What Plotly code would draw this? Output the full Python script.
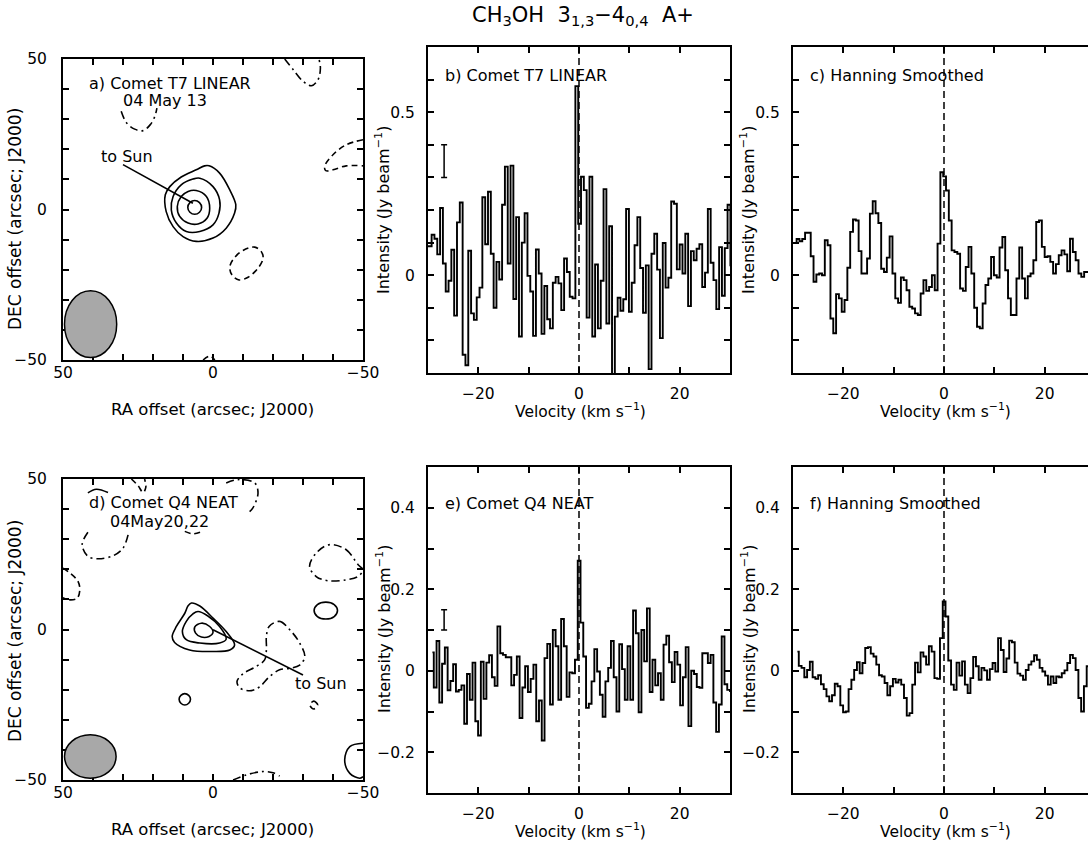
import plotly.graph_objects as go

W, H = 1088, 843
FONT = "DejaVu Sans"

# ---------------- spectra data ----------------
t7_v_start, t7_dv = -30.12, 0.56      # channel centres, km/s
q4_v_start, q4_dv = -29.125, 0.55

t7_raw = [0.089, 0.089, 0.124, 0.112, 0.064, 0.206, 0.036, -0.05, -0.017, 0.078,
          -0.124, 0.162, 0.223, -0.244, -0.276, 0.075, -0.117, -0.137, -0.068, -0.038,
          0.239, 0.095, 0.256, 0.066, -0.1, 0.041, -0.013, 0.216, 0.333, 0.036,
          0.336, -0.073, 0.178, -0.188, 0.1, 0.19, -0.002, -0.05, -0.186, 0.079,
          0.005, -0.18, -0.033, -0.135, -0.163, -0.023, -0.005, -0.025, -0.107, 0.051,
          0.01, -0.066, -0.071, 0.58, 0.158, 0.302, 0.261, -0.13, 0.302, -0.188,
          0.033, -0.163, -0.017, 0.264, -0.148, 0.15, -0.31, -0.127, -0.069, -0.109,
          -0.074, 0.203, -0.112, -0.023, 0.092, 0.178, 0.022, -0.115, 0.03, -0.288,
          0.066, 0.127, 0.017, -0.193, 0.099, -0.038, -0.008, 0.226, 0.219, 0.018,
          0.094, 0.005, 0.127, -0.095, 0.074, 0.046, 0.081, 0.095, -0.036, 0.008,
          0.203, 0.038, -0.015, -0.104, 0.086, -0.063, 0.083, 0.216, 0.03]

t7_hanning = [0.099, 0.099, 0.111, 0.104, 0.111, 0.13, 0.13, 0.058, -0.02, 0.002,
              0.005, 0.0, 0.107, 0.092, -0.133, -0.178, -0.058, -0.071, -0.112, -0.076,
              0.023, 0.133, 0.171, 0.168, 0.074, 0.005, 0.005, 0.051, 0.189, 0.227,
              0.19, 0.16, 0.02, 0.01, 0.054, 0.119, 0.005, -0.071, -0.085, -0.007,
              -0.015, -0.046, -0.097, -0.102, -0.117, -0.122, -0.056, -0.015, -0.048, -0.036,
              0.0, -0.046, 0.097, 0.316, 0.303, 0.26, 0.168, 0.076, 0.071, 0.066,
              -0.041, -0.048, 0.025, 0.087, 0.005, -0.1, -0.158, -0.163, -0.087, -0.03,
              -0.01, 0.056, 0.0, -0.007, 0.085, 0.117, 0.015, -0.071, -0.122, -0.122,
              -0.01, 0.085, -0.01, -0.071, -0.003, 0.005, 0.046, 0.163, 0.168, 0.087,
              0.056, 0.058, 0.041, 0.005, 0.034, 0.061, 0.076, 0.064, 0.012, 0.112,
              0.071, 0.046, 0.005, -0.005, 0.01, 0.01, 0.082, 0.09, 0.1]

q4_raw = [0.045, -0.041, 0.073, -0.078, 0.017, 0.057, -0.048, -0.025, 0.016, -0.051,
          -0.047, -0.036, -0.13, -0.008, -0.071, 0.02, -0.124, -0.159, 0.022, -0.069,
          0.02, 0.038, -0.016, -0.037, 0.109, 0.043, 0.039, 0.033, 0.033, -0.036,
          -0.01, 0.035, -0.116, -0.041, 0.011, -0.052, -0.02, 0.015, -0.124, -0.073,
          -0.171, 0.031, 0.066, -0.083, 0.1, 0.06, -0.071, 0.127, 0.06, -0.064,
          -0.004, -0.006, 0.027, 0.27, 0.118, 0.035, -0.091, -0.081, -0.026, 0.053,
          -0.002, -0.059, -0.113, -0.026, 0.007, 0.073, -0.016, -0.1, 0.065, 0.004,
          -0.071, 0.06, -0.071, 0.148, 0.092, -0.102, 0.1, 0.023, 0.153, -0.052,
          0.027, -0.036, -0.006, -0.071, 0.064, 0.086, 0.021, -0.028, 0.046, 0.015,
          -0.085, -0.016, 0.058, -0.136, 0.0, -0.008, -0.04, -0.042, 0.043, 0.043,
          0.019, 0.039, -0.078, -0.15, -0.083, 0.084, -0.033, -0.047, -0.05]

q4_hanning = [0.047, 0.012, 0.007, -0.016, 0.002, 0.022, -0.016, -0.02, -0.011, -0.033,
              -0.045, -0.063, -0.075, -0.06, -0.032, -0.038, -0.085, -0.102, -0.1, -0.045,
              -0.022, 0.002, 0.021, -0.006, 0.019, 0.056, 0.058, 0.042, 0.035, 0.015,
              -0.011, -0.014, -0.03, -0.06, -0.038, -0.02, -0.029, -0.022, -0.034, -0.067,
              -0.11, -0.104, -0.034, 0.02, -0.004, 0.045, 0.035, 0.015, 0.06, 0.047,
              -0.018, -0.02, 0.08, 0.17, 0.133, 0.025, -0.034, -0.047, 0.02, -0.012,
              0.023, -0.034, -0.055, -0.018, 0.034, 0.011, -0.022, 0.007, 0.001, -0.022,
              0.004, 0.019, -0.002, 0.08, 0.051, -0.003, 0.03, 0.074, 0.07, 0.02,
              -0.007, -0.012, -0.022, 0.002, 0.015, 0.023, 0.038, 0.027, 0.007, -0.002,
              -0.012, -0.034, -0.014, -0.03, -0.014, -0.016, -0.006, 0.001, 0.019, 0.039,
              0.031, 0.002, -0.067, -0.1, -0.038, 0.011, 0.02, 0.0, -0.03]

# rms bars: velocity, lower, upper (Jy/beam)
t7_rms_bar = (-26.8, 0.30, 0.40)
q4_rms_bar = (-26.8, 0.10, 0.15)

# ---------------- map contour paths (RA, DEC offsets, arcsec) ----------------
a_pos_1 = [(1.3, 14.5), (-2.2, 12.1), (-5.6, 6.5), (-7.6, 1.6), (-7.2, -1.2), (-4.4, -6.2),
           (0, -9.5), (5.6, -10.6), (10, -9.0), (13.3, -5.7), (15.6, -0.7), (15.9, 4.9),
           (14.4, 7.6), (10.6, 10.8), (5.6, 13.2), (2.8, 14.5)]
a_pos_2 = [(4.4, 10.4), (0, 7.6), (-2.2, 3.2), (-2.0, -1.2), (0, -5.1), (4.4, -7.3),
           (8.9, -7.3), (12.2, -4.5), (13.9, -0.1), (13.3, 4.3), (10.6, 8.2), (6.7, 10.1)]
a_pos_3 = [(5.6, 6.3), (2.2, 4.3), (1.1, 0.4), (2.0, -2.9), (5.0, -4.8), (8.3, -4.5),
           (11.1, -2.3), (11.9, 1.0), (10.6, 4.3), (8.3, 6.0)]
a_pos_4 = [(8.4, 0.7), (7.7, 2.3), (6.1, 3.0), (4.5, 2.3), (3.8, 0.7), (4.5, -0.9),
           (6.1, -1.6), (7.7, -0.9)]
a_neg_1 = [(30.6, 32.6), (28.9, 28.9), (26.1, 26.7), (23.3, 26.2), (20.9, 28.2), (19.4, 30.9), (18.7, 33.7)]
a_neg_2 = [(-23.9, 50), (-26.7, 46.5), (-30, 42.6), (-32.8, 41.1), (-35, 43.1), (-35.8, 47), (-35.3, 50)]
a_neg_3 = [(-50, 23.2), (-44.4, 21.5), (-40, 18.2), (-37.2, 14.3), (-37.6, 12.9), (-40, 13.2),
           (-44.4, 14.5), (-50, 14.5)]
a_neg_4 = [(-13.9, -12.5), (-16.1, -14.0), (-16.7, -16.2), (-15, -19.5), (-11.7, -22.5),
           (-8.7, -23.4), (-6.3, -21.7), (-5.6, -19.0), (-7.0, -16.2), (-10, -13.6)]
a_neg_5 = [(3.3, -50), (1.1, -48.7), (-0.6, -50)]
a_sun = [(30, 14.9), (6.7, 2.1)]
a_beam = (40.8, -38.1, 8.7, 11.1)     # centre RA, DEC, semi-axes

d_pos_1 = [(7.2, 8.8), (4.4, 7.8), (0, 3.8), (-4.4, -0.7), (-7.2, -5.1), (-5.6, -6.8), (0, -7.3),
           (7.8, -6.8), (12.8, -4.3), (13.6, -2.3), (12.2, 1.0), (9.4, 5.4), (8.3, 7.9)]
d_pos_2 = [(5.0, 6.0), (1.7, 4.5), (-2.2, 1.0), (-4.4, -3.2), (-2.2, -4.5), (4.4, -4.5),
           (8.9, -3.4), (10.2, -0.7), (8.9, 2.7), (6.7, 5.2)]
d_pos_3 = [(3.9, 2.1), (1.1, 1.0), (0, -1.0), (1.3, -2.3), (3.9, -2.5), (5.8, -1.2), (6.1, 0.8)]
d_pos_4 = [(11.3, -23.2), (10.7, -21.9), (9.4, -21.3), (8.1, -21.9), (7.5, -23.2), (8.1, -24.5),
           (9.4, -25.1), (10.7, -24.5)]
d_pos_5 = [(-33.7, 6.3), (-34.8, 8.3), (-37.6, 9.1), (-40.4, 8.3), (-41.5, 6.3), (-40.4, 4.3),
           (-37.6, 3.5), (-34.8, 4.3)]
d_pos_6 = [(-50, -37.8), (-45.6, -38.9), (-43.9, -43.3), (-45.6, -47.8), (-48.9, -49.4), (-50, -48.9)]
d_pos_7 = [(41.7, 45.4), (38.9, 46.6), (35, 45.5)]
d_neg_1 = [(27.2, 50), (25.0, 47.8), (23.3, 45.5), (22.4, 47.2), (22.8, 50)]
d_neg_2 = [(-4.4, 48.7), (-8.3, 49.8), (-13.9, 48.7), (-15, 45.3), (-13.3, 40.4), (-12.2, 39.2)]
d_neg_3 = [(9.4, 32.6), (6.7, 31.8), (3.9, 32.5)]
d_neg_4 = [(41.7, 32.3), (43.6, 28.2), (41.7, 24.3), (38.3, 23.5), (33.3, 24.5), (30, 27), (28.3, 31.5)]
d_neg_5 = [(50, 20.4), (47.6, 18.7), (45, 16), (44.4, 13.2), (45.3, 10.4), (48.3, 9.9), (50, 10.6)]
d_neg_6 = [(-38.9, 28.2), (-44.4, 26.5), (-48.3, 21.6), (-50, 19.8), (-48.3, 17.6), (-44.4, 16.5),
           (-38.3, 16.2), (-34.4, 17.6), (-32.2, 21), (-34.4, 25.4)]
d_neg_7 = [(-18.7, 1.0), (-22.2, 2.7), (-25.6, -0.1), (-28.9, -4.5), (-30.6, -9.0), (-28.9, -11.8),
           (-25.6, -12.9), (-22.2, -13.4), (-18.9, -15.6), (-15.6, -19.0), (-12.8, -20.3),
           (-9.1, -19.5), (-8.0, -17.3), (-10, -14.7), (-14.4, -12.3), (-17.2, -10.1),
           (-17.8, -6.8), (-17.8, -2.3)]
d_neg_8 = [(-32.3, -25.1), (-33.6, -23.8), (-34.9, -25.1), (-33.6, -26.4)]
d_neg_9 = [(-6.7, -50), (-11.1, -48.3), (-16.7, -47.2), (-20, -47.6), (-22.2, -48.7)]
d_sun = [(0, -0.1), (-30, -15.1)]
d_beam = (40.9, -42.2, 8.6, 7.2)

# ---------------- ticks ----------------
map_ticks = [-50, -40, -30, -20, -10, 0, 10, 20, 30, 40, 50]
map_labels = {50: "50", 0: "0", -50: "\u221250"}
vel_ticks = [-30, -20, -10, 0, 10, 20, 30]
vel_labels = {-20: "\u221220", 0: "0", 20: "20"}
t7_int_ticks = [-0.2, -0.1, 0.0, 0.1, 0.2, 0.3, 0.4, 0.5, 0.6]
t7_int_labels = {0.0: "0", 0.5: "0.5"}
q4_int_ticks = [-0.2, -0.1, 0.0, 0.1, 0.2, 0.3, 0.4]
q4_int_labels = {-0.2: "\u22120.2", 0.0: "0", 0.2: "0.2", 0.4: "0.4"}

# ---------------- helpers ----------------
def px(x):
    return x / W

def py(y):
    return 1 - y / H

t7_vel = [round(t7_v_start + i * t7_dv, 3) for i in range(len(t7_raw))]
q4_vel = [round(q4_v_start + i * q4_dv, 3) for i in range(len(q4_raw))]

fig = go.Figure()

BLACK = "black"

def spectrum(v, vals, ax):
    fig.add_trace(go.Scatter(x=v, y=vals, mode="lines",
                             line=dict(shape="hvh", color=BLACK, width=1.9),
                             xaxis="x" + ax, yaxis="y" + ax,
                             showlegend=False, hoverinfo="skip"))

def rms_bar(bar, ax):
    v, lo, hi = bar
    fig.add_trace(go.Scatter(x=[v], y=[(lo + hi) / 2], mode="markers",
                             marker=dict(size=1, color="rgba(0,0,0,0)"),
                             error_y=dict(type="data", array=[(hi - lo) / 2], color=BLACK,
                                          thickness=1.5, width=3),
                             xaxis="x" + ax, yaxis="y" + ax,
                             showlegend=False, hoverinfo="skip"))

DASH = "6px,4px"
DASHDOT = "8px,4px,2px,4px"

def contour(pts, ax, dash="solid", closed=True, spline=True):
    xs = [p[0] for p in pts]
    ys = [p[1] for p in pts]
    if closed:
        xs.append(xs[0])
        ys.append(ys[0])
    fig.add_trace(go.Scatter(x=xs, y=ys, mode="lines",
                             line=dict(color=BLACK, width=1.6, dash=dash,
                                       shape="spline" if spline else "linear", smoothing=1.0),
                             xaxis="x" + ax, yaxis="y" + ax,
                             showlegend=False, hoverinfo="skip"))

# ---------------- panel a ----------------
for c in (a_pos_1, a_pos_2, a_pos_3, a_pos_4):
    contour(c, "")
contour(a_neg_1, "", DASHDOT, closed=False)
contour(a_neg_2, "", DASHDOT, closed=False)
contour(a_neg_3, "", DASH, closed=False)
contour(a_neg_4, "", DASH)
contour(a_neg_5, "", DASH, closed=False)
contour(a_sun, "", "solid", closed=False, spline=False)

# ---------------- panel d ----------------
for c in (d_pos_1, d_pos_2, d_pos_3, d_pos_4, d_pos_5):
    contour(c, "4")
contour(d_pos_6, "4", "solid", closed=False)
contour(d_pos_7, "4", "solid", closed=False)
contour(d_neg_1, "4", DASH, closed=False)
contour(d_neg_2, "4", DASHDOT, closed=False)
contour(d_neg_3, "4", DASH, closed=False)
contour(d_neg_4, "4", DASHDOT, closed=False)
contour(d_neg_5, "4", DASH, closed=False)
contour(d_neg_6, "4", DASHDOT)
contour(d_neg_7, "4", DASHDOT)
contour(d_neg_8, "4", DASH)
contour(d_neg_9, "4", DASHDOT, closed=False)
contour(d_sun, "4", "solid", closed=False, spline=False)

# ---------------- spectra ----------------
spectrum(t7_vel, t7_raw, "2")
spectrum(t7_vel, t7_hanning, "3")
spectrum(q4_vel, q4_raw, "5")
spectrum(q4_vel, q4_hanning, "6")
rms_bar(t7_rms_bar, "2")
rms_bar(q4_rms_bar, "5")

# ---------------- axes ----------------
map_x = [px(63), px(363)]
spec1_x = [px(428), px(730)]
spec2_x = [px(793), 1.0]
top_map_y = [py(360), py(59)]
top_spec_y = [py(373), py(47)]
bot_map_y = [py(780), py(479)]
bot_spec_y = [py(793), py(467)]

cut_range = [-30, -30 + 60 * (W - 793) / 302.0]

def axis(domain, rng, vals, labels, anchor, mirror="ticks", standoff=4):
    major = [v for v in vals if v in labels]
    return dict(domain=domain, range=rng, tickmode="array", tickvals=major,
                ticktext=[labels[v] for v in major], ticks="inside", ticklen=6,
                tickwidth=1.5, tickcolor=BLACK,
                minor=dict(tickmode="array", tickvals=vals, ticks="inside", ticklen=6,
                           tickwidth=1.5, tickcolor=BLACK, showgrid=False),
                showline=True, linewidth=2,
                linecolor=BLACK, mirror=mirror, showgrid=False, zeroline=False,
                anchor=anchor, tickfont=dict(family=FONT, size=15.5, color=BLACK),
                ticklabelstandoff=standoff, fixedrange=True, automargin=False)

layout_axes = dict(
    xaxis=axis(map_x, [50, -50], map_ticks, map_labels, "y", standoff=-3),
    yaxis=axis(top_map_y, [-50, 50], map_ticks, map_labels, "x", standoff=11),
    xaxis2=axis(spec1_x, [-30, 30], vel_ticks, vel_labels, "y2", standoff=5),
    yaxis2=axis(top_spec_y, [-0.3, 0.7], t7_int_ticks, t7_int_labels, "x2", standoff=8),
    xaxis3=axis(spec2_x, cut_range, vel_ticks, vel_labels, "y3", standoff=5),
    yaxis3=axis(top_spec_y, [-0.3, 0.7], t7_int_ticks, t7_int_labels, "x3", mirror=False, standoff=8),
    xaxis4=axis(map_x, [50, -50], map_ticks, map_labels, "y4", standoff=-3),
    yaxis4=axis(bot_map_y, [-50, 50], map_ticks, map_labels, "x4", standoff=11),
    xaxis5=axis(spec1_x, [-30, 30], vel_ticks, vel_labels, "y5", standoff=5),
    yaxis5=axis(bot_spec_y, [-0.3, 0.5], q4_int_ticks, q4_int_labels, "x5", standoff=8),
    xaxis6=axis(spec2_x, cut_range, vel_ticks, vel_labels, "y6", standoff=5),
    yaxis6=axis(bot_spec_y, [-0.3, 0.5], q4_int_ticks, q4_int_labels, "x6", mirror=False, standoff=8),
)

# ---------------- shapes ----------------
shapes = []
for ax in ("2", "3", "5", "6"):
    shapes.append(dict(type="line", xref="x" + ax, yref="y" + ax + " domain",
                       x0=0, x1=0, y0=0, y1=1,
                       line=dict(color=BLACK, width=1.5, dash="7px,4px")))
for beam, ax in ((a_beam, ""), (d_beam, "4")):
    ra, dec, sra, sdec = beam
    shapes.append(dict(type="circle", xref="x" + ax, yref="y" + ax,
                       x0=ra - sra, x1=ra + sra, y0=dec - sdec, y1=dec + sdec,
                       fillcolor="#a8a8a8", line=dict(color=BLACK, width=1.5)))

# ---------------- annotations ----------------
def text(t, x, y, size=16, xanchor="left", angle=0, xref="paper", yref="paper"):
    return dict(text=t, x=x, y=y, xref=xref, yref=yref, showarrow=False,
                xanchor=xanchor, yanchor="middle", textangle=angle,
                font=dict(family=FONT, size=size, color=BLACK))

ann = [
    text("CH<sub>3</sub>OH  3<sub>1,3</sub>\u22124<sub>0,4</sub>  A+", px(583), py(16), size=21, xanchor="center"),
    text("a) Comet T7 LINEAR", px(87), py(83)),
    text("04 May 13", px(121), py(100)),
    text("b) Comet T7 LINEAR", px(443), py(75)),
    text("c) Hanning Smoothed", px(808), py(75)),
    text("d) Comet Q4 NEAT", px(87), py(502)),
    text("04May20,22", px(108), py(521)),
    text("e) Comet Q4 NEAT", px(443), py(503)),
    text("f) Hanning Smoothed", px(808), py(503)),
    text("to Sun", 28.6, 17.6, xanchor="center", xref="x", yref="y"),
    text("to Sun", -26.7, -17.8, xanchor="left", xref="x4", yref="y4"),
    text("RA offset (arcsec; J2000)", px(212), py(409), size=16.5, xanchor="center"),
    text("RA offset (arcsec; J2000)", px(212), py(829), size=16.5, xanchor="center"),
    text("DEC offset (arcsec; J2000)", px(15), py(219), size=17, xanchor="center", angle=-90),
    text("DEC offset (arcsec; J2000)", px(15), py(631), size=17, xanchor="center", angle=-90),
]
for xc, yc in ((580, 410), (945, 410), (580, 830), (945, 830)):
    ann.append(text("Velocity (km s<sup>\u22121</sup>)", px(xc), py(yc), size=15.5, xanchor="center"))
for xc, yc in ((383, 210), (748, 210), (383, 629), (748, 629)):
    ann.append(text("Intensity (Jy beam<sup>\u22121</sup>)", px(xc), py(yc), xanchor="center", angle=-90))

fig.update_layout(
    width=W, height=H, margin=dict(l=0, r=0, t=0, b=0, pad=0, autoexpand=False),
    autosize=False,
    paper_bgcolor="white", plot_bgcolor="white",
    font=dict(family=FONT, size=15, color=BLACK),
    showlegend=False, shapes=shapes, annotations=ann,
    **layout_axes,
)

fig.write_html("out.html", config={"responsive": False, "displayModeBar": False},
               post_script="document.body.style.margin='0px';document.body.style.overflow='hidden';")
